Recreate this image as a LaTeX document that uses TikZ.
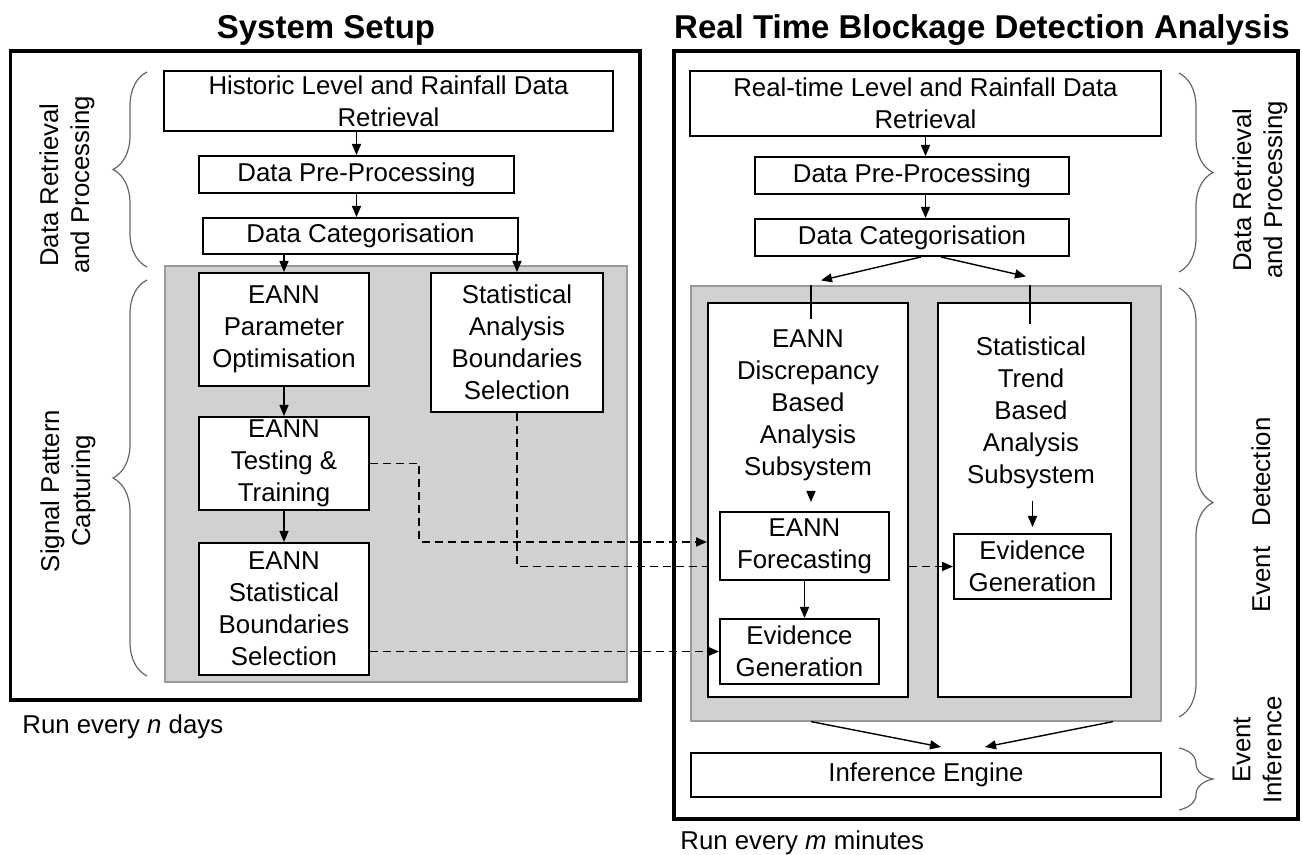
\documentclass[tikz,border=0pt]{standalone}
\usepackage{fontspec}
\setmainfont{Liberation Sans}
\usetikzlibrary{arrows.meta,decorations.pathreplacing}
\tikzset{
      stagebox/.style={
        draw=black,
        line width=1pt,
        fill=white,
        align=center,
        inner sep=0pt,
        font=\fontsize{12.9}{16}\selectfont
      },
      panelbox/.style={draw=black, line width=1pt, fill=white, inner sep=0pt},
      shadearea/.style={draw=black!40, line width=0.6pt, fill=black!18, inner sep=0pt},
      frame/.style={draw=black, line width=1.7pt},
      plaintext/.style={align=center, inner sep=0pt, font=\fontsize{12.9}{16}\selectfont},
      sidelabel/.style={rotate=90, align=center, inner sep=0pt, font=\fontsize{12.9}{15.5}\selectfont},
      titletext/.style={inner sep=0pt, font=\bfseries\fontsize{16.5}{20}\selectfont},
      flow/.style={-{Triangle[length=5.5pt,width=4.5pt]}, line width=0.7pt},
      feed/.style={dash pattern=on 4pt off 2.5pt, line width=0.9pt},
      feedarrow/.style={feed, -{Triangle[length=5.5pt,width=4.5pt]}},
      sidebrace/.style={decorate, decoration={brace, amplitude=17pt}, draw=black!60, line width=0.6pt}
    }

\begin{document}
\begin{tikzpicture}[x=0.5pt,y=-0.5pt]
    \useasboundingbox (0,0) rectangle (1303,855);

    % titles and frames
    \node[titletext] (setuptitle) at (326,30) {System Setup};
    \node[titletext] (detecttitle) at (982,30) {Real Time Blockage Detection Analysis};
    \draw[frame] (10.5,51) rectangle (640,700);
    \draw[frame] (674,51) rectangle (1298,819);

    % shaded areas
    \node[shadearea, minimum width=231pt, minimum height=208pt] (setupshade) at (396,474) {};
    \node[shadearea, minimum width=235pt, minimum height=217.5pt] (detectshade) at (926,503.5) {};

    % system setup
    \node[stagebox, minimum width=224.5pt, minimum height=30pt] (histret) at (388.5,101) {Historic Level and Rainfall Data\\Retrieval};
    \node[stagebox, minimum width=157.5pt, minimum height=18.5pt] (prepro) at (356.5,174.5) {Data Pre-Processing};
    \node[stagebox, minimum width=157.5pt, minimum height=18pt] (categ) at (360.5,236) {Data Categorisation};
    \node[stagebox, minimum width=85pt, minimum height=56.5pt] (paramopt) at (284,329.5) {EANN\\Parameter\\Optimisation};
    \node[stagebox, minimum width=86pt, minimum height=69.5pt] (statbound) at (517,342.5) {Statistical\\Analysis\\Boundaries\\Selection};
    \node[stagebox, minimum width=85pt, minimum height=46.5pt] (testtrain) at (284,463.5) {EANN\\Testing \&\\Training};
    \node[stagebox, minimum width=85pt, minimum height=66pt] (evalbound) at (284,609) {EANN\\Statistical\\Boundaries\\Selection};

    % real time detection
    \node[stagebox, minimum width=235.5pt, minimum height=32.5pt] (rtret) at (925.5,103.5) {Real-time Level and Rainfall Data\\Retrieval};
    \node[stagebox, minimum width=157pt, minimum height=18.5pt] (rtpre) at (912,175.5) {Data Pre-Processing};
    \node[stagebox, minimum width=157pt, minimum height=18.5pt] (rtcat) at (912,237.5) {Data Categorisation};
    \node[panelbox, minimum width=100pt, minimum height=197pt] (discbox) at (808,500) {};
    \node[panelbox, minimum width=96.5pt, minimum height=197pt] (trendbox) at (1034.5,500) {};
    \node[plaintext] (disctext) at (808,405) {EANN\\Discrepancy\\Based\\Analysis\\Subsystem};
    \node[plaintext] (trendtext) at (1031,413) {Statistical\\Trend\\Based\\Analysis\\Subsystem};
    \node[stagebox, minimum width=84.5pt, minimum height=34pt] (forecast) at (804.5,546) {EANN\\Forecasting};
    \node[stagebox, minimum width=79.5pt, minimum height=32.5pt] (eviddisc) at (799.5,651.5) {Evidence\\Generation};
    \node[stagebox, minimum width=78.5pt, minimum height=32.5pt] (evidtrend) at (1032.5,566.5) {Evidence\\Generation};
    \node[stagebox, minimum width=235pt, minimum height=22pt] (inference) at (926,775) {Inference Engine};

    % side braces and labels
    \draw[sidebrace] (147,267) -- (147,72);
    \draw[sidebrace] (147,676) -- (147,280);
    \draw[sidebrace] (1179,73) -- (1179,272);
    \draw[sidebrace] (1179,288) -- (1179,717);
    \draw[sidebrace] (1179,748) -- (1179,810);
    \node[sidelabel] (setupdrp) at (67,185) {Data Retrieval\\and Processing};
    \node[sidelabel] (setupspc) at (68,491) {Signal Pattern\\Capturing};
    \node[sidelabel] (detectdrp) at (1260,190) {Data Retrieval\\and Processing};
    \node[sidelabel] (detected) at (1261,515) {Event\hspace{10pt}Detection};
    \node[sidelabel] (detectei) at (1257,750) {Event\\Inference};

    % run notes
    \node[plaintext, anchor=west] (setuprun) at (22,727) {Run every \textit{n} days};
    \node[plaintext, anchor=west] (detectrun) at (680,843) {Run every \textit{m} minutes};

    % setup flow
    \draw[flow] (prepro.north |- histret.south) -- (prepro.north);
    \draw[flow] (prepro.south) -- (prepro.south |- categ.north);
    \draw[flow] (paramopt.north |- categ.south) -- (paramopt.north);
    \draw[flow] (statbound.north |- categ.south) -- (statbound.north);
    \draw[flow] (paramopt) -- (testtrain);
    \draw[flow] (testtrain) -- (evalbound);

    % detection flow
    \coordinate (discin) at ([xshift=1.5pt]discbox.north |- detectshade.north);
    \coordinate (trendin) at ([xshift=-2.25pt]trendbox.north |- detectshade.north);
    \draw[flow] (rtret.south) -- (rtret.south |- rtpre.north);
    \draw[flow] (rtret.south |- rtpre.south) -- (rtret.south |- rtcat.north);
    \draw[flow] ([xshift=4.5pt]rtcat.south) -- ([shift={(5pt,2.5pt)}]discin);
    \draw[flow] ([xshift=14.5pt]rtcat.south) -- ([shift={(-2pt,4.5pt)}]trendin);
    \draw[line width=0.7pt] (discin) -- ++(0,34);
    \draw[line width=0.7pt] (trendin) -- ++(0,39);
    \draw[flow] ([yshift=10pt]forecast.north -| discin) -- ([yshift=4.5pt]forecast.north -| discin);
    \draw[flow] (forecast.south) -- (forecast.south |- eviddisc.north);
    \draw[flow] ([yshift=16pt]evidtrend.north) -- ([yshift=3pt]evidtrend.north);
    \draw[flow] (discin |- detectshade.south) -- ([shift={(7.5pt,2.5pt)}]inference.north);
    \draw[flow] ([xshift=93.5pt]detectshade.south) -- ([shift={(29.5pt,2.5pt)}]inference.north);

    % dashed feeds
    \draw[feedarrow] (testtrain.east) -- ++(49,0) |- ([yshift=2pt]discbox.west |- forecast.center);
    \draw[feed] (statbound.south) |- (discbox.west |- evidtrend.west);
    \draw[feedarrow] (discbox.east |- evidtrend.west) -- (evidtrend.west);
    \draw[feedarrow] (evalbound.east |- eviddisc.west) -- (eviddisc.west);
\end{tikzpicture}
\end{document}
